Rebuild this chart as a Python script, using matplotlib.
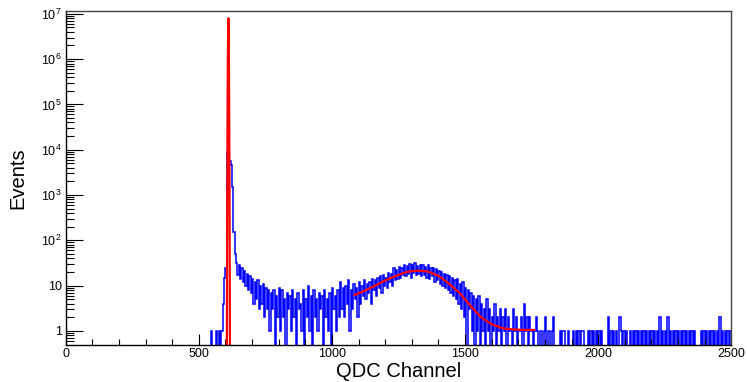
import numpy as np
import matplotlib
matplotlib.use("Agg")
import matplotlib.pyplot as plt
from matplotlib.ticker import FixedLocator, MultipleLocator, LogLocator, NullFormatter

plt.rcParams['font.family'] = ['Liberation Sans', 'DejaVu Sans']
plt.rcParams['mathtext.fontset'] = 'custom'
plt.rcParams['mathtext.rm'] = 'Liberation Sans'
plt.rcParams['mathtext.it'] = 'Liberation Sans'

# QDC histogram, bins of 5 channels starting at 540 (counts)
bin_start = 540
bin_width = 5
counts = [
    # 540 - 635
    0, 1, 0, 0, 0, 1, 0, 1, 0, 1, 4, 15, 25, 9000, 7000000, 5700, 4500, 1500, 150, 50,
    # 640 - 735
    32, 17, 28, 14, 25, 12, 21, 10, 18, 8, 16, 7, 14, 4, 12, 5, 13, 3, 10, 4,
    # 740 - 835
    11, 2, 9, 3, 8, 1, 7, 3, 8, 0, 6, 2, 9, 1, 8, 2, 5, 0, 7, 3,
    # 840 - 935
    6, 1, 8, 2, 5, 0, 7, 3, 4, 1, 8, 0, 5, 2, 10, 1, 6, 0, 8, 2,
    # 940 - 1035
    5, 1, 7, 3, 6, 0, 8, 2, 5, 1, 7, 0, 9, 3, 6, 1, 8, 2, 12, 3,
    # 1040 - 1135
    9, 2, 10, 4, 13, 1, 8, 3, 11, 5, 9, 2, 12, 4, 10, 6, 13, 5, 11, 7,
    # 1140 - 1235
    12, 4, 14, 8, 13, 6, 15, 9, 16, 7, 17, 10, 15, 9, 19, 12, 18, 10, 24, 13,
    # 1240 - 1335
    22, 14, 26, 15, 25, 17, 29, 16, 27, 18, 30, 15, 28, 19, 31, 17, 27, 18, 29, 16,
    # 1340 - 1435
    28, 17, 26, 15, 29, 14, 25, 16, 24, 12, 23, 13, 21, 11, 20, 10, 18, 9, 17, 8,
    # 1440 - 1535
    16, 7, 15, 6, 13, 5, 14, 4, 11, 3, 12, 2, 9, 0, 8, 3, 7, 1, 6, 0,
    # 1540 - 1635
    5, 1, 6, 0, 4, 1, 3, 0, 5, 1, 3, 0, 2, 1, 4, 0, 2, 1, 3, 0,
    # 1640 - 1735
    2, 1, 3, 0, 2, 1, 1, 0, 3, 1, 2, 0, 1, 1, 2, 0, 4, 1, 2, 0,
    # 1740 - 1835
    2, 1, 1, 0, 1, 2, 1, 0, 1, 1, 0, 1, 2, 0, 1, 1, 0, 1, 2, 0,
    # 1840 - 1935
    0, 0, 0, 1, 0, 1, 1, 0, 0, 1, 0, 0, 0, 1, 0, 1, 0, 1, 0, 1,
    # 1940 - 2035
    1, 0, 0, 0, 1, 0, 1, 0, 1, 0, 1, 0, 1, 0, 1, 0, 0, 0, 0, 2,
    # 2040 - 2135
    0, 1, 0, 1, 0, 1, 0, 0, 2, 1, 0, 1, 0, 1, 0, 0, 1, 0, 1, 0,
    # 2140 - 2235
    1, 0, 1, 0, 1, 0, 1, 0, 1, 0, 1, 0, 1, 0, 1, 0, 1, 0, 2, 0,
    # 2240 - 2335
    1, 0, 1, 0, 2, 0, 1, 0, 1, 0, 1, 0, 1, 0, 1, 0, 1, 0, 1, 0,
    # 2340 - 2435
    1, 0, 1, 0, 1, 0, 0, 0, 0, 1, 0, 1, 0, 1, 0, 1, 0, 1, 0, 1,
    # 2440 - 2495
    0, 1, 0, 2, 0, 1, 0, 1, 0, 1, 0, 1,
]

# pedestal fit (red, narrow)
ped_x = [605, 606, 607, 608, 609, 610, 611, 612, 613, 614, 615, 616, 617]
ped_y = [0.1, 28, 2500, 8e4, 1e6, 4.5e6, 8e6, 4.5e6, 1e6, 8e4, 2500, 28, 0.1]

# signal fit (red, broad)
sig_x = [1085, 1120, 1160, 1200, 1240, 1280, 1320, 1360, 1400, 1440, 1480,
         1520, 1560, 1600, 1640, 1680, 1720, 1760]
sig_y = [6.2, 7.6, 9.8, 13, 16.5, 20, 21.5, 20.5, 16.5, 11, 6.8,
         3.6, 2.0, 1.4, 1.15, 1.08, 1.05, 1.05]

counts = np.array(counts, dtype=float)
edges = bin_start + bin_width * np.arange(len(counts) + 1)
shown = np.where(counts > 0, counts, 1e-3)  # empty bins drop off the log axis

fig = plt.figure(figsize=(7.47, 3.82), dpi=100)
ax = fig.add_axes([0.088, 0.097, 0.891, 0.874])

ax.stairs(shown, edges, baseline=None, color='blue', lw=1.1)
ax.plot(ped_x, ped_y, color='red', lw=1.6)
ax.plot(sig_x, sig_y, color='red', lw=1.6)

ax.set_xlim(0, 2500)
ax.set_yscale('log')
ax.set_ylim(0.49, 1.15e7)

ax.xaxis.set_major_locator(MultipleLocator(500))
ax.xaxis.set_minor_locator(MultipleLocator(100))
dec = [1, 10, 1e2, 1e3, 1e4, 1e5, 1e6, 1e7]
ax.yaxis.set_major_locator(FixedLocator(dec))
ax.set_yticklabels(['1', '10'] + [r'$10^{%d}$' % k for k in range(2, 8)])
ax.yaxis.set_minor_locator(LogLocator(base=10, subs=np.arange(2, 10)))
ax.yaxis.set_minor_formatter(NullFormatter())

ax.tick_params(axis='both', which='both', direction='in', width=0.8,
               top=False, right=False, labelsize=9)
ax.tick_params(axis='x', which='major', length=8, pad=2)
ax.tick_params(axis='x', which='minor', length=4.3)
ax.tick_params(axis='y', which='major', length=12, pad=3)
ax.tick_params(axis='y', which='minor', length=6)

for s in ['left', 'bottom']:
    ax.spines[s].set_linewidth(1.0)
for s in ['top', 'right']:
    ax.spines[s].set_linewidth(1.0)
    ax.spines[s].set_color('#444444')

ax.set_xlabel('QDC Channel', fontsize=14.5)
ax.set_ylabel('Events', fontsize=14.5)
ax.xaxis.set_label_coords(0.5, -0.05)
ax.yaxis.set_label_coords(-0.057, 0.5)

plt.savefig('out.png', dpi=100)
